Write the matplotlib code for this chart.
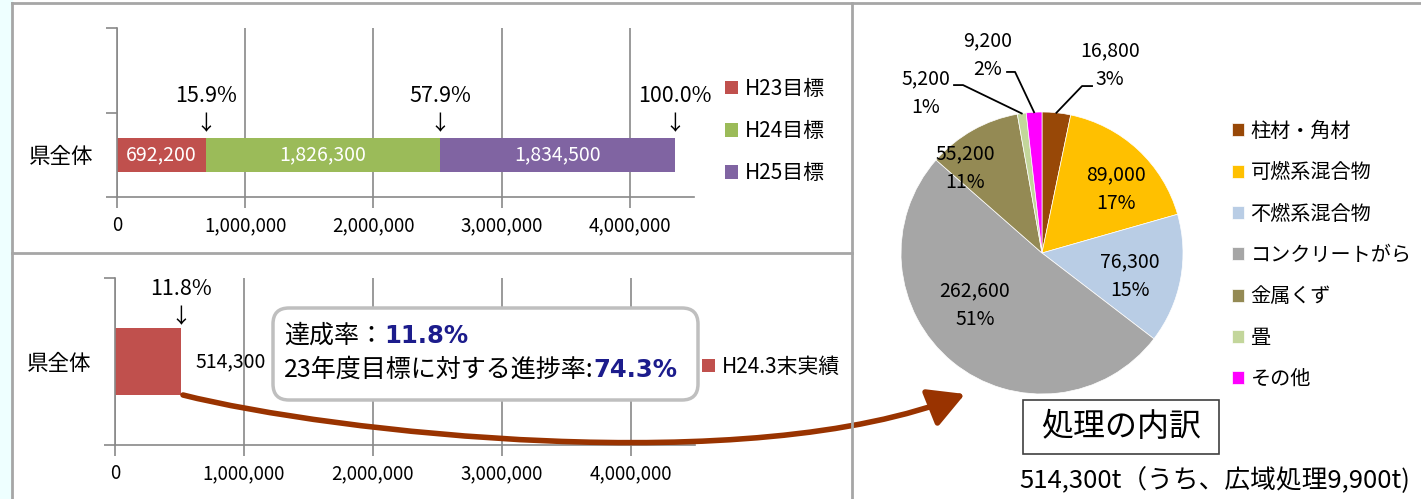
import matplotlib
matplotlib.use("Agg")
import matplotlib.pyplot as plt
import numpy as np
from matplotlib.patches import FancyBboxPatch, Rectangle, FancyArrowPatch
from matplotlib.path import Path

plt.rcParams['font.family'] = ['Noto Sans CJK JP', 'DejaVu Sans']

W, H = 1421, 499

# ---- データ ----
region = "県全体"
target_labels = ["H23目標", "H24目標", "H25目標"]
target_values = [692200, 1826300, 1834500]
actual_label = "H24.3末実績"
actual_values = [514300]
x_ticks = [0, 1000000, 2000000, 3000000, 4000000]

pie_labels = ["柱材・角材", "可燃系混合物", "不燃系混合物", "コンクリートがら", "金属くず", "畳", "その他"]
pie_values = [16800, 89000, 76300, 262600, 55200, 5200, 9200]
wide_area_value = 9900

# ---- 色 ----
bar_colors = ["#C0504D", "#9BBB59", "#8064A2"]
pie_colors = ["#984807", "#FFC000", "#B9CDE5", "#A6A6A6", "#948A54", "#C3D69B", "#FF00FF"]
GRID = "#898989"
BORDER = "#A6A6A6"
NAVY = "#1C1C8C"
ARROW = "#993300"


def px_rect(x0, y0, x1, y1):
    """ピクセル座標(左上原点)から add_axes 用の矩形を作る"""
    return [x0 / W, 1 - y1 / H, (x1 - x0) / W, (y1 - y0) / H]


def style_bar_axes(ax, n_cat):
    ax.set_xlim(0, 4500000)
    ax.set_ylim(0, n_cat)
    ax.set_xticks(x_ticks)
    ax.set_xticklabels([f"{v:,}" for v in x_ticks])
    ax.set_yticks(np.arange(n_cat + 1))
    ax.set_yticklabels([])
    ax.set_yticks([0.5], labels=[region], minor=True)
    ax.tick_params(axis='both', which='major', length=8, width=1.2, color=GRID,
                   labelsize=13.5, pad=5)
    ax.tick_params(axis='y', which='minor', length=0, labelsize=15.5, pad=17)
    ax.grid(axis='x', color=GRID, lw=1.2)
    ax.set_axisbelow(True)
    for s in ['top', 'right']:
        ax.spines[s].set_visible(False)
    for s in ['left', 'bottom']:
        ax.spines[s].set_color(GRID)
        ax.spines[s].set_linewidth(1.2)
    ax.patch.set_alpha(0)


fig = plt.figure(figsize=(W / 100, H / 100), dpi=100)
fig.patch.set_facecolor("white")

# ---- 上段: 目標 ----
total = sum(target_values)
ax_top = fig.add_axes(px_rect(117, 28, 694, 197))
style_bar_axes(ax_top, 2)
lefts = np.concatenate([[0], np.cumsum(target_values)[:-1]])
top_bars = []
for val, left, color, lab in zip(target_values, lefts, bar_colors, target_labels):
    b = ax_top.barh(0.5, val, left=left, height=0.40, color=color, label=lab)
    ax_top.bar_label(b, labels=[f"{val:,}"], label_type='center', color='white', fontsize=14)
    top_bars.append(b)
for c in np.cumsum(target_values):
    ax_top.annotate(f"{c / total * 100:.1f}%", xy=(c, 0.7), xytext=(0, 30),
                    textcoords='offset points', ha='center', va='center', fontsize=15.5)
    ax_top.annotate("↓", xy=(c, 0.7), xytext=(0, 10),
                    textcoords='offset points', ha='center', va='center', fontsize=15)
ax_top.legend(handles=top_bars, labels=target_labels, loc='upper left',
              bbox_to_anchor=(725 / W, 1 - 78 / H), bbox_transform=fig.transFigure,
              frameon=False, fontsize=15, handlelength=0.62, handleheight=0.62,
              handletextpad=0.35, labelspacing=0.97, borderpad=0, borderaxespad=0)

# ---- 下段: 実績 ----
ax_bot = fig.add_axes(px_rect(115, 278, 695, 445))
style_bar_axes(ax_bot, 1)
b = ax_bot.barh(0.5, actual_values[0], height=0.40, color=bar_colors[0], label=actual_label)
ax_bot.bar_label(b, labels=[f"{actual_values[0]:,}"], padding=10, fontsize=14)
ax_bot.annotate(f"{actual_values[0] / total * 100:.1f}%", xy=(actual_values[0], 0.7),
                xytext=(0, 28), textcoords='offset points', ha='center', va='center', fontsize=15.5)
ax_bot.annotate("↓", xy=(actual_values[0], 0.7), xytext=(0, 8),
                textcoords='offset points', ha='center', va='center', fontsize=15)
ax_bot.legend(handles=[b], labels=[actual_label], loc='center left',
              bbox_to_anchor=(702 / W, 1 - 367 / H), bbox_transform=fig.transFigure,
              frameon=False, fontsize=15, handlelength=0.62, handleheight=0.62,
              handletextpad=0.35, borderpad=0, borderaxespad=0)

# ---- 円グラフ ----
cx, cy, r = 1042, 253, 141
ax_pie = fig.add_axes(px_rect(cx - r, cy - r, cx + r, cy + r))
pie_total = sum(pie_values)
wedges, _ = ax_pie.pie(pie_values, colors=pie_colors, startangle=90, counterclock=False,
                       radius=1, wedgeprops=dict(linewidth=0.5, edgecolor='white'))
ax_pie.set_xlim(-1, 1)
ax_pie.set_ylim(-1, 1)
ax_pie.set_aspect('equal')

label_pos = [(0.482, 1.333), (0.525, 0.454), (0.624, -0.163), (-0.475, -0.369),
             (-0.546, 0.603), (-0.823, 1.135), (-0.383, 1.404)]
elbows = {0: [(0.355, 1.184), (0.284, 1.184)],
          5: [(-0.624, 1.191), (-0.560, 1.191)],
          6: [(-0.248, 1.284), (-0.191, 1.284)]}
for i, (val, w) in enumerate(zip(pie_values, wedges)):
    ax_pie.text(*label_pos[i], f"{val:,}\n{val / pie_total * 100:.0f}%", ha='center',
                va='center', fontsize=14, linespacing=1.45)
    if i in elbows:
        mid = np.deg2rad((w.theta1 + w.theta2) / 2)
        pts = elbows[i] + [(np.cos(mid), np.sin(mid))]
        xs, ys = zip(*pts)
        ax_pie.plot(xs, ys, color='black', lw=1.3, clip_on=False)

ax_pie.legend(wedges, pie_labels, loc='upper left',
              bbox_to_anchor=(1232 / W, 1 - 121 / H), bbox_transform=fig.transFigure,
              frameon=False, fontsize=14.5, handlelength=0.62, handleheight=0.62,
              handletextpad=0.3, labelspacing=1.01, borderpad=0, borderaxespad=0)

# ---- 重ね描き (ピクセル座標) ----
ov = fig.add_axes([0, 0, 1, 1], zorder=5)
ov.set_xlim(0, W)
ov.set_ylim(H, 0)
ov.axis('off')

ov.add_patch(Rectangle((0, 0), 12, H, color='#EEFFFF', zorder=0))
ov.plot([12, 12], [3, H], color=BORDER, lw=2)
ov.plot([12, W], [3, 3], color=BORDER, lw=2)
ov.plot([12, 852], [253, 253], color=BORDER, lw=2)
ov.plot([852, 852], [3, H], color=BORDER, lw=2)

# 吹き出し
ov.add_patch(FancyBboxPatch((273, 308), 425, 92, boxstyle="round,pad=0,rounding_size=16",
                            facecolor='white', edgecolor='#BFBFBF', lw=2.5))
t1 = ov.text(284, 336, "達成率：", ha='left', va='center', fontsize=18)
ov.annotate(f"{actual_values[0] / total * 100:.1f}%", xy=(1, 0.5), xycoords=t1,
            ha='left', va='center', fontsize=17.5, fontweight='bold', color=NAVY,
            family='DejaVu Sans')
t2 = ov.text(284, 370, "23年度目標に対する進捗率:", ha='left', va='center', fontsize=18)
ov.annotate(f"{actual_values[0] / target_values[0] * 100:.1f}%", xy=(1, 0.5), xycoords=t2,
            ha='left', va='center', fontsize=17.5, fontweight='bold', color=NAVY,
            family='DejaVu Sans')

# 曲線矢印
verts = [(183, 395), (330, 432), (750, 480), (965, 394)]
curve = Path(verts, [Path.MOVETO, Path.CURVE4, Path.CURVE4, Path.CURVE4])
ov.add_patch(FancyArrowPatch(path=curve, arrowstyle='-|>,head_length=1.1,head_width=0.6',
                             mutation_scale=20, color=ARROW, lw=4, shrinkA=0, shrinkB=0))

# 処理の内訳
ov.add_patch(Rectangle((1023, 400), 196, 54, facecolor='white', edgecolor='#404040', lw=1.2))
ov.text(1121, 427, "処理の内訳", ha='center', va='center', fontsize=23)
ov.text(1019, 481, f"{pie_total:,}t（うち、広域処理{wide_area_value:,}t)",
        ha='left', va='center', fontsize=18.5)

fig.savefig("out.png", dpi=100)
